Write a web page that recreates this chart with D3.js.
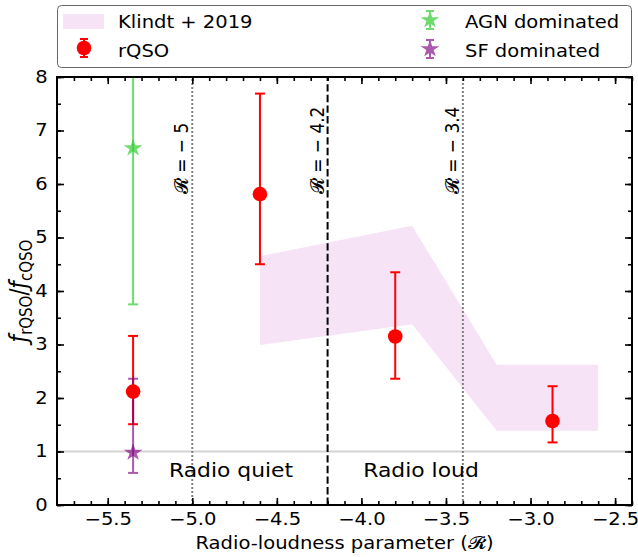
<!DOCTYPE html>
<html>
<head>
<script src="https://d3js.org/d3.v7.min.js"></script>
<style>
  body { margin: 0; background: #fff; }
  text { font-family: "DejaVu Sans", sans-serif; fill: #000; }
</style>
</head>
<body>
<script>
// rQSO points with asymmetric error bars
var rqsoX = [-5.35, -4.6, -3.8, -2.87];
var rqsoY = [2.12, 5.81, 3.15, 1.57];
var rqsoLo = [1.51, 4.50, 2.36, 1.17];
var rqsoHi = [3.16, 7.69, 4.35, 2.22];

// AGN / SF dominated
var agnX = [-5.35], agnY = [6.67], agnLo = [3.75], agnHi = [10.5];
var sfX = [-5.35], sfY = [0.98], sfLo = [0.60], sfHi = [2.36];

// Klindt + 2019 band
var kX = [-4.6, -3.7, -3.2, -2.6];
var kLo = [2.99, 3.38, 1.39, 1.39];
var kHi = [4.65, 5.22, 2.62, 2.62];

var vLines = [-5, -4.2, -3.4];
var vLabels = ["𝓡 = − 5", "𝓡 = − 4.2", "𝓡 = − 3.4"];
var xTicks = [-5.5, -5.0, -4.5, -4.0, -3.5, -3.0, -2.5];
var yTicks = [0, 1, 2, 3, 4, 5, 6, 7, 8];

var width = 638, height = 557;
var SX = 1.15;  // picture looks stretched sideways a bit
var bandColor = "#f6e3f6", sfColor = "#800080";

var svg = d3.select("body").append("svg")
  .attr("width", width).attr("height", height);

var x = d3.scaleLinear().domain([-5.8, -2.4]).range([57, 632]);
var y = d3.scaleLinear().domain([0, 8]).range([505, 77]);

svg.append("clipPath").attr("id", "clip").append("rect")
  .attr("x", 57).attr("y", 77).attr("width", 575).attr("height", 428);
var plot = svg.append("g").attr("clip-path", "url(#clip)");

// band
var band = kX.map(function(d, i) { return {x: d, lo: kLo[i], hi: kHi[i]}; });
plot.append("path").datum(band)
  .attr("fill", bandColor)
  .attr("d", d3.area().x(function(d) { return x(d.x); })
    .y0(function(d) { return y(d.lo); }).y1(function(d) { return y(d.hi); }));

// y = 1
plot.append("line").attr("x1", x(-5.8)).attr("x2", x(-2.4))
  .attr("y1", y(1)).attr("y2", y(1))
  .attr("stroke", "#d3d3d3").attr("stroke-width", 2);

// vertical lines
vLines.forEach(function(v, i) {
  plot.append("line").attr("x1", x(v)).attr("x2", x(v))
    .attr("y1", y(0)).attr("y2", y(8))
    .attr("stroke", i == 1 ? "#000" : "#808080")
    .attr("stroke-width", 2)
    .attr("stroke-dasharray", i == 1 ? "7.4,3.2" : "2,2");
  svg.append("text")
    .attr("transform", "translate(" + (x(v) - 4) + ",194) scale(" + SX + ",1) rotate(-90)")
    .attr("font-size", 17)
    .text(vLabels[i]);
});

function sText(sel, tx, ty, str, size, anchor) {
  return sel.append("text")
    .attr("transform", "translate(" + tx + "," + ty + ") scale(" + SX + ",1)")
    .attr("font-size", size).attr("text-anchor", anchor || "start").text(str);
}

sText(svg, 231, 477, "Radio quiet", 19, "middle");
sText(svg, 421, 477, "Radio loud", 19, "middle");

function starPath(r) {
  var pts = [];
  for (var k = 0; k < 10; k++) {
    var rr = k % 2 == 0 ? r : r * 0.382;
    var a = -Math.PI / 2 + k * Math.PI / 5;
    pts.push([rr * Math.cos(a), rr * Math.sin(a)]);
  }
  return "M" + pts.join("L") + "Z";
}

function errbars(g, xs, lo, hi, color, op) {
  xs.forEach(function(d, i) {
    var eg = g.append("g").attr("stroke", color).attr("stroke-width", 2).attr("opacity", op);
    eg.append("line").attr("x1", x(d)).attr("x2", x(d)).attr("y1", y(lo[i])).attr("y2", y(hi[i]));
    eg.append("line").attr("x1", x(d) - 5).attr("x2", x(d) + 5).attr("y1", y(lo[i])).attr("y2", y(lo[i]));
    eg.append("line").attr("x1", x(d) - 5).attr("x2", x(d) + 5).attr("y1", y(hi[i])).attr("y2", y(hi[i]));
  });
}

errbars(plot, agnX, agnLo, agnHi, "#32cd32", 0.7);
plot.selectAll(".agn").data(agnX).enter().append("path")
  .attr("d", starPath(9)).attr("fill", "#32cd32").attr("opacity", 0.7)
  .attr("transform", function(d, i) { return "translate(" + x(d) + "," + y(agnY[i]) + ") scale(1.1,1)"; });

errbars(plot, rqsoX, rqsoLo, rqsoHi, "#ff0000", 1);
errbars(plot, sfX, sfLo, sfHi, sfColor, 0.65);
plot.selectAll(".sf").data(sfX).enter().append("path")
  .attr("d", starPath(9)).attr("fill", sfColor).attr("opacity", 0.65)
  .attr("transform", function(d, i) { return "translate(" + x(d) + "," + y(sfY[i]) + ") scale(1.1,1)"; });
plot.selectAll(".rq").data(rqsoX).enter().append("circle")
  .attr("cx", function(d) { return x(d); })
  .attr("cy", function(d, i) { return y(rqsoY[i]); })
  .attr("r", 7.3).attr("fill", "#ff0000");

// axes, ticks pointing inward on all sides
var fmtX = d3.format(".1f");
function styleAxis(g) {
  g.select(".domain").remove();
  g.selectAll(".tick line").attr("stroke-width", 1.6);
}
var minorX = d3.range(-57, -23).map(function(d) { return d / 10; });
var minorY = d3.range(0, 17).map(function(d) { return d / 2; });

var bottom = svg.append("g").attr("transform", "translate(0,505)")
  .call(d3.axisBottom(x).tickValues(xTicks).tickSize(-7).tickPadding(8).tickFormat(fmtX))
  .call(styleAxis);
bottom.selectAll("text").attr("font-size", 17).attr("transform", "scale(" + SX + ",1)");
svg.append("g").attr("transform", "translate(0,505)")
  .call(d3.axisBottom(x).tickValues(minorX).tickSize(-4).tickFormat("")).call(styleAxis);
svg.append("g").attr("transform", "translate(0,77)")
  .call(d3.axisTop(x).tickValues(xTicks).tickSize(-7).tickFormat("")).call(styleAxis);
svg.append("g").attr("transform", "translate(0,77)")
  .call(d3.axisTop(x).tickValues(minorX).tickSize(-4).tickFormat("")).call(styleAxis);

var left = svg.append("g").attr("transform", "translate(57,0)")
  .call(d3.axisLeft(y).tickValues(yTicks).tickSize(-7).tickPadding(8).tickFormat(d3.format("d")))
  .call(styleAxis);
left.selectAll("text").attr("font-size", 17).attr("transform", "scale(" + SX + ",1)");
svg.append("g").attr("transform", "translate(57,0)")
  .call(d3.axisLeft(y).tickValues(minorY).tickSize(-4).tickFormat("")).call(styleAxis);
svg.append("g").attr("transform", "translate(632,0)")
  .call(d3.axisRight(y).tickValues(yTicks).tickSize(-7).tickFormat("")).call(styleAxis);
svg.append("g").attr("transform", "translate(632,0)")
  .call(d3.axisRight(y).tickValues(minorY).tickSize(-4).tickFormat("")).call(styleAxis);

svg.append("rect").attr("x", 57).attr("y", 77).attr("width", 575).attr("height", 428)
  .attr("fill", "none").attr("stroke", "#000").attr("stroke-width", 2);

// axis labels
sText(svg, 344.5, 549, "Radio-loudness parameter (𝓡)", 17, "middle");
var yl = svg.append("text")
  .attr("transform", "translate(27,291) scale(" + SX + ",1) rotate(-90)")
  .attr("text-anchor", "middle").attr("font-size", 21);
yl.append("tspan").attr("font-style", "italic").text("ƒ");
yl.append("tspan").attr("font-size", 15).attr("dy", 4).text("rQSO");
yl.append("tspan").attr("dy", -4).text("/");
yl.append("tspan").attr("font-style", "italic").text("ƒ");
yl.append("tspan").attr("font-size", 15).attr("dy", 4).text("cQSO");

// legend
var lg = svg.append("g");
lg.append("rect").attr("x", 57.5).attr("y", 5.5).attr("width", 574).attr("height", 62)
  .attr("rx", 4).attr("fill", "#fff").attr("stroke", "#666").attr("stroke-width", 1);
lg.append("rect").attr("x", 63).attr("y", 14).attr("width", 41).attr("height", 15).attr("fill", bandColor);
sText(lg, 118, 28, "Klindt + 2019", 17);
sText(lg, 118, 57, "rQSO", 17);
sText(lg, 465, 28, "AGN dominated", 17);
sText(lg, 465, 57, "SF dominated", 17);

function legMark(cx, cy, color, op, star) {
  var g = lg.append("g").attr("transform", "translate(" + cx + "," + cy + ")").attr("opacity", op);
  g.append("line").attr("y1", -9).attr("y2", 9).attr("stroke", color).attr("stroke-width", 2);
  g.append("line").attr("x1", -4).attr("x2", 4).attr("y1", -9).attr("y2", -9).attr("stroke", color).attr("stroke-width", 2);
  g.append("line").attr("x1", -4).attr("x2", 4).attr("y1", 9).attr("y2", 9).attr("stroke", color).attr("stroke-width", 2);
  if (star) g.append("path").attr("d", starPath(9)).attr("fill", color).attr("transform", "scale(1.1,1)");
  else g.append("circle").attr("r", 7.3).attr("fill", color);
}
legMark(84, 48, "#ff0000", 1, false);
legMark(430, 20, "#32cd32", 0.7, true);
legMark(430, 49, sfColor, 0.65, true);
</script>
</body>
</html>
